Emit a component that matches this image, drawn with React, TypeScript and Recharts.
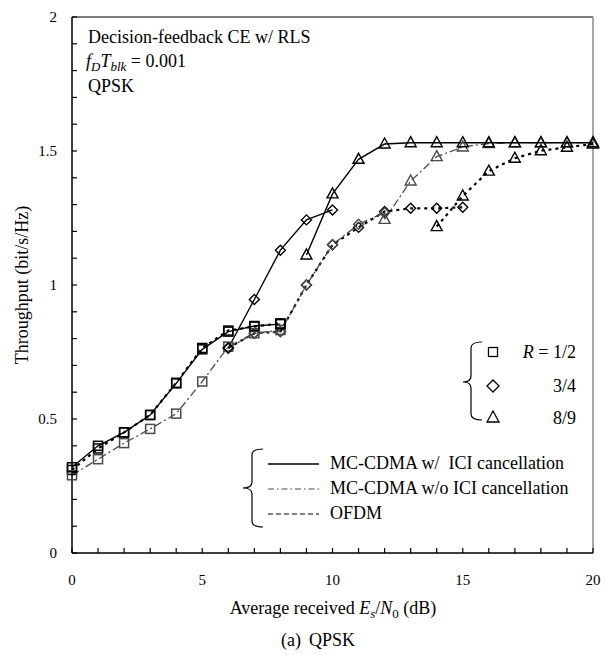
import React from 'react';
import { LineChart, Line, XAxis, YAxis, ReferenceLine } from 'recharts';

// Es/N0 (dB) points and throughput (bit/s/Hz) per curve
const snrR12 = [0, 1, 2, 3, 4, 5, 6, 7, 8];
const iciR12 = [0.32, 0.4, 0.45, 0.515, 0.633, 0.76, 0.826, 0.847, 0.854];
const noIciR12 = [0.29, 0.35, 0.41, 0.463, 0.52, 0.64, 0.77, 0.82, 0.832];
const ofdmR12 = [0.31, 0.39, 0.45, 0.515, 0.635, 0.765, 0.83, 0.845, 0.857];

const snrIciR34 = [6, 7, 8, 9, 10];
const iciR34 = [0.765, 0.946, 1.13, 1.243, 1.28];
const snrNoIciR34 = [6, 7, 8, 9, 10, 11, 12];
const noIciR34 = [0.765, 0.82, 0.826, 1.0, 1.15, 1.227, 1.27];
const snrOfdmR34 = [6, 7, 8, 9, 10, 11, 12, 13, 14, 15];
const ofdmR34 = [0.765, 0.82, 0.826, 1.0, 1.15, 1.215, 1.274, 1.286, 1.286, 1.29];

const snrIciR89 = [9, 10, 11, 12, 13, 14, 15, 16, 17, 18, 19, 20];
const iciR89 = [1.112, 1.34, 1.469, 1.526, 1.531, 1.531, 1.531, 1.531, 1.531, 1.531, 1.531, 1.531];
const snrNoIciR89 = [12, 13, 14, 15, 16, 17, 18, 19, 20];
const noIciR89 = [1.245, 1.388, 1.479, 1.515, 1.528, 1.531, 1.531, 1.531, 1.531];
const snrOfdmR89 = [14, 15, 16, 17, 18, 19, 20];
const ofdmR89 = [1.218, 1.332, 1.425, 1.473, 1.501, 1.514, 1.526];

const xTicks = [0, 1, 2, 3, 4, 5, 6, 7, 8, 9, 10, 11, 12, 13, 14, 15, 16, 17, 18, 19, 20];
const yTicks = [0, 0.1, 0.2, 0.3, 0.4, 0.5, 0.6, 0.7, 0.8, 0.9, 1, 1.1, 1.2, 1.3, 1.4, 1.5, 1.6, 1.7, 1.8, 1.9, 2];
const xLabels: Record<number, string> = { 0: '0', 5: '5', 10: '10', 15: '15', 20: '20' };
const yLabels: Record<number, string> = { 0: '0', 0.5: '0.5', 1: '1', 1.5: '1.5', 2: '2' };

const W = 605;
const H = 655;
const LEFT = 72;
const RIGHT = 593;
const TOP = 17;
const BOTTOM = 553;
const FONT = "'Liberation Serif', 'DejaVu Serif', serif";
const GRAY = '#4a4a4a';
const txt = { fontFamily: FONT };

const toPoints = (xs: number[], ys: number[]) => xs.map((x, i) => ({ x, y: ys[i] }));

const square = (color: string) => (p: any) => (
  <rect key={p.index} x={p.cx - 4.5} y={p.cy - 4.5} width={9} height={9} fill="none" stroke={color} strokeWidth={1.5} />
);
const diamond = (color: string) => (p: any) => (
  <path key={p.index} d={`M${p.cx},${p.cy - 5} L${p.cx + 5},${p.cy} L${p.cx},${p.cy + 5} L${p.cx - 5},${p.cy} Z`} fill="none" stroke={color} strokeWidth={1.4} />
);
const triangle = (color: string) => (p: any) => (
  <path key={p.index} d={`M${p.cx},${p.cy - 6} L${p.cx + 5.5},${p.cy + 4} L${p.cx - 5.5},${p.cy + 4} Z`} fill="none" stroke={color} strokeWidth={1.4} />
);

const YTick = (props: any) => {
  const { y, payload } = props;
  const label = yLabels[payload.value];
  return (
    <g>
      <line x1={LEFT} x2={LEFT + 5} y1={y} y2={y} stroke="#000" strokeWidth={1.2} />
      {label !== undefined && (
        <text x={57} y={y + 5} textAnchor="end" fontSize={15} style={txt} fill="#000">{label}</text>
      )}
    </g>
  );
};

const XTick = (props: any) => {
  const { x, payload } = props;
  const label = xLabels[payload.value];
  return (
    <g>
      <line x1={x} x2={x} y1={BOTTOM} y2={BOTTOM - 5} stroke="#000" strokeWidth={1.2} />
      {label !== undefined && (
        <text x={x} y={585} textAnchor="middle" fontSize={15} style={txt} fill="#000">{label}</text>
      )}
    </g>
  );
};

const brace = (xl: number, xc: number, xr: number, y0: number, ym: number, y1: number) => {
  const r = 6;
  return `M${xr},${y0} Q${xc},${y0} ${xc},${y0 + r} L${xc},${ym - r} Q${xc},${ym} ${xl},${ym} Q${xc},${ym} ${xc},${ym + r} L${xc},${y1 - r} Q${xc},${y1} ${xr},${y1}`;
};

export default function App() {
  const solid = { stroke: '#000', strokeWidth: 1.4 };
  const dashDot = { stroke: GRAY, strokeWidth: 1.3, strokeDasharray: '8 3 2 3' };
  const dashed = { stroke: '#000', strokeWidth: 2.2, strokeDasharray: '3 4' };

  return (
    <div style={{ position: 'absolute', left: 0, top: 0, width: W, height: H, background: '#fff' }}>
      <LineChart width={W} height={H} margin={{ top: TOP, right: W - RIGHT, left: 0, bottom: 0 }}>
        <XAxis type="number" dataKey="x" domain={[0, 20]} ticks={xTicks} height={H - BOTTOM}
          axisLine={{ stroke: '#000', strokeWidth: 1.5 }} tickLine={false} tick={<XTick />} interval={0} />
        <YAxis type="number" dataKey="y" domain={[0, 2]} ticks={yTicks} width={LEFT}
          axisLine={{ stroke: '#000', strokeWidth: 1.5 }} tickLine={false} tick={<YTick />} interval={0} />
        <ReferenceLine y={2} stroke="#000" strokeWidth={1.2} />
        <ReferenceLine x={20} stroke="#888" strokeWidth={1.5} />

        <Line data={toPoints(snrR12, ofdmR12)} dataKey="y" {...dashed} dot={square('#000')} isAnimationActive={false} />
        <Line data={toPoints(snrOfdmR34, ofdmR34)} dataKey="y" {...dashed} dot={diamond('#000')} isAnimationActive={false} />
        <Line data={toPoints(snrOfdmR89, ofdmR89)} dataKey="y" {...dashed} dot={triangle('#000')} isAnimationActive={false} />

        <Line data={toPoints(snrR12, noIciR12)} dataKey="y" {...dashDot} dot={square(GRAY)} isAnimationActive={false} />
        <Line data={toPoints(snrNoIciR34, noIciR34)} dataKey="y" {...dashDot} dot={diamond(GRAY)} isAnimationActive={false} />
        <Line data={toPoints(snrNoIciR89, noIciR89)} dataKey="y" {...dashDot} dot={triangle(GRAY)} isAnimationActive={false} />

        <Line data={toPoints(snrR12, iciR12)} dataKey="y" {...solid} dot={square('#000')} isAnimationActive={false} />
        <Line data={toPoints(snrIciR34, iciR34)} dataKey="y" {...solid} dot={diamond('#000')} isAnimationActive={false} />
        <Line data={toPoints(snrIciR89, iciR89)} dataKey="y" {...solid} dot={triangle('#000')} isAnimationActive={false} />
      </LineChart>

      <svg width={W} height={H} style={{ position: 'absolute', left: 0, top: 0, pointerEvents: 'none', fontFamily: FONT, fontSize: 18 }}>
        {/* condition notes */}
        <text x={88} y={43}>Decision-feedback CE w/ RLS</text>
        <text x={86} y={67}>
          <tspan fontStyle="italic">f</tspan>
          <tspan fontStyle="italic" fontSize={13} dy={4}>D</tspan>
          <tspan fontStyle="italic" dy={-4}>T</tspan>
          <tspan fontStyle="italic" fontSize={13} dy={4}>blk</tspan>
          <tspan dy={-4}> = 0.001</tspan>
        </text>
        <text x={88} y={92}>QPSK</text>

        {/* rate legend */}
        <path d={brace(463, 471, 482, 342, 382, 420)} fill="none" stroke="#000" strokeWidth={1.2} />
        <rect x={488.5} y={347.5} width={9} height={9} fill="none" stroke="#000" strokeWidth={1.3} />
        <path d="M493,380 L499,386 L493,392 L487,386 Z" fill="none" stroke="#000" strokeWidth={1.3} />
        <path d="M493,411 L499,422 L487,422 Z" fill="none" stroke="#000" strokeWidth={1.3} />
        <text x={576} y={358} textAnchor="end"><tspan fontStyle="italic">R</tspan> = 1/2</text>
        <text x={576} y={392} textAnchor="end">3/4</text>
        <text x={576} y={424} textAnchor="end">8/9</text>

        {/* scheme legend */}
        <path d={brace(243, 252, 263, 449, 488, 527)} fill="none" stroke="#000" strokeWidth={1.2} />
        <line x1={268} x2={319} y1={464} y2={464} stroke="#000" strokeWidth={1.3} />
        <line x1={268} x2={319} y1={489} y2={489} stroke={GRAY} strokeWidth={1.2} strokeDasharray="6 3 1.5 3" />
        <line x1={268} x2={319} y1={514} y2={514} stroke="#000" strokeWidth={1.2} strokeDasharray="5 3" />
        <text x={330} y={469}>MC-CDMA w/<tspan dx={9}>ICI cancellation</tspan></text>
        <text x={330} y={494}>MC-CDMA w/o ICI cancellation</text>
        <text x={330} y={519}>OFDM</text>

        {/* axis titles */}
        <text x={22} y={285} textAnchor="middle" transform="rotate(-90 22 285)" dy={6}>Throughput (bit/s/Hz)</text>
        <text x={333} y={614} textAnchor="middle">
          Average received <tspan fontStyle="italic">E</tspan>
          <tspan fontStyle="italic" fontSize={13} dy={4}>s</tspan>
          <tspan dy={-4}>/</tspan>
          <tspan fontStyle="italic">N</tspan>
          <tspan fontSize={13} dy={4}>0</tspan>
          <tspan dy={-4}> (dB)</tspan>
        </text>
        <text x={318} y={646} textAnchor="middle">(a)<tspan dx={8}>QPSK</tspan></text>
      </svg>
    </div>
  );
}
